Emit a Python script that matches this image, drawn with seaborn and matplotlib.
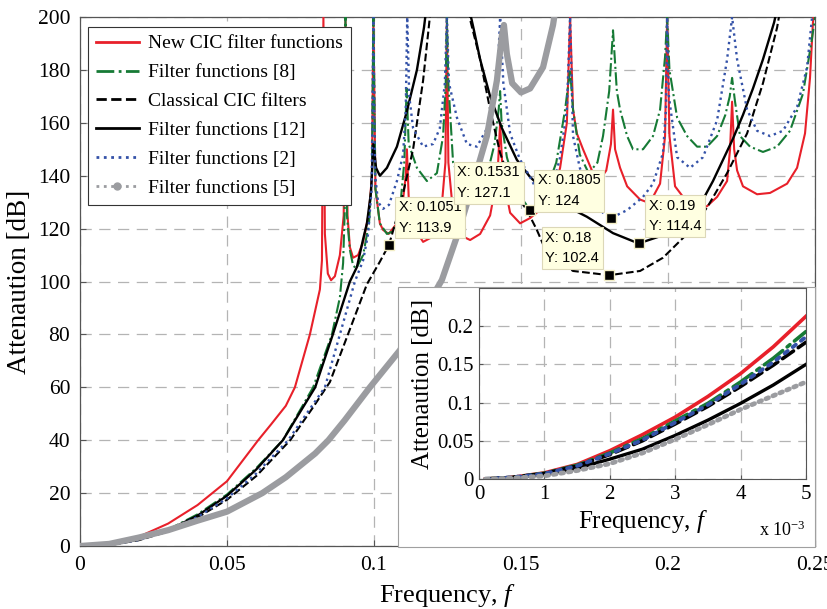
import matplotlib
matplotlib.use('Agg')
import matplotlib.pyplot as plt
from matplotlib.lines import Line2D
from matplotlib.patches import Rectangle
import pandas as pd
import seaborn as sns

# ---- data: (frequency, attenuation dB) ----
new_cic = [(0, 0), (0.01, 0.6), (0.02, 3.5), (0.03, 8.5), (0.04, 15.5), (0.05, 24.5),
           (0.0606, 40), (0.065, 46), (0.07, 53), (0.0731, 60), (0.0782, 80), (0.0816, 97),
           (0.0823, 108), (0.0828, 200), (0.0833, 118), (0.0843, 103), (0.0854, 100.5),
           (0.0867, 102), (0.0884, 110), (0.0897, 125), (0.0903, 200), (0.0910, 125),
           (0.0918, 113), (0.0929, 109), (0.0946, 110), (0.0963, 115), (0.0983, 126),
           (0.0993, 140), (0.0998, 200), (0.1005, 135), (0.1020, 122), (0.1031, 119.5),
           (0.1050, 118), (0.1078, 122), (0.1099, 131), (0.1108, 140), (0.1112, 150),
           (0.1118, 132), (0.1133, 121), (0.1167, 115), (0.1201, 117), (0.1230, 128),
           (0.1243, 145), (0.1248, 200), (0.1253, 145), (0.1269, 126), (0.1303, 117),
           (0.1327, 115.7), (0.1361, 118), (0.1395, 125), (0.1420, 140), (0.1429, 160),
           (0.1438, 140), (0.1463, 126), (0.1497, 122), (0.1531, 124), (0.1575, 128),
           (0.1609, 133), (0.1633, 143), (0.1656, 160), (0.1667, 200), (0.1677, 165),
           (0.1690, 156), (0.1711, 150), (0.1745, 141), (0.1765, 138), (0.1790, 142),
           (0.1806, 152), (0.1813, 165), (0.1820, 150), (0.1837, 143), (0.1861, 136),
           (0.1905, 131), (0.1929, 130), (0.1949, 132), (0.1973, 137), (0.1990, 155),
           (0.1997, 200), (0.2005, 155), (0.2024, 136), (0.2065, 130), (0.2099, 127.5),
           (0.2133, 128.5), (0.2167, 132), (0.2201, 138), (0.2211, 150), (0.2218, 168),
           (0.2225, 150), (0.2235, 142), (0.2255, 136), (0.2303, 133), (0.2347, 133.5),
           (0.2405, 137), (0.2439, 143), (0.2466, 156), (0.2483, 177), (0.2493, 198),
           (0.2500, 210)]

ff8 = [(0, 0), (0.01, 0.4), (0.02, 2.6), (0.03, 6.2), (0.04, 12), (0.05, 19.5), (0.06, 29.5),
       (0.069, 40), (0.0793, 60), (0.0857, 80), (0.0884, 94), (0.0895, 107), (0.0900, 125),
       (0.0903, 200), (0.0908, 125), (0.0918, 112), (0.0929, 106), (0.0940, 105),
       (0.0963, 110), (0.0983, 122), (0.0993, 140), (0.0998, 200), (0.1005, 135),
       (0.1020, 122), (0.1044, 118), (0.1065, 119), (0.1088, 127), (0.1103, 145),
       (0.1111, 173), (0.1118, 152), (0.1146, 143), (0.1180, 138), (0.1214, 141),
       (0.1235, 155), (0.1244, 175), (0.1248, 200), (0.1253, 175), (0.1269, 145),
       (0.1303, 136), (0.1350, 135.5), (0.1384, 140), (0.1410, 152), (0.1424, 165),
       (0.1429, 172), (0.1434, 160), (0.1452, 147), (0.1486, 134), (0.1531, 127.1),
       (0.1575, 131), (0.1620, 145), (0.1650, 165), (0.1667, 180), (0.1677, 165),
       (0.1700, 148), (0.1730, 141), (0.1760, 145), (0.1779, 155), (0.1800, 172),
       (0.1813, 195), (0.1826, 172), (0.1837, 165), (0.1861, 155), (0.1881, 150),
       (0.1915, 150), (0.1949, 155), (0.1973, 165), (0.1990, 185), (0.1997, 200),
       (0.2005, 180), (0.2031, 162), (0.2065, 155), (0.2099, 151), (0.2133, 151),
       (0.2167, 155), (0.2195, 163), (0.2210, 170), (0.2218, 177), (0.2228, 168),
       (0.2245, 155), (0.2279, 151), (0.2323, 149), (0.2371, 151), (0.2415, 157),
       (0.2459, 171), (0.2490, 192), (0.2500, 200)]

classical = [(0, 0), (0.01, 0.3), (0.02, 2.2), (0.03, 5.5), (0.04, 10.8), (0.05, 17.5),
             (0.06, 26.5), (0.0715, 40), (0.0790, 52), (0.0850, 62), (0.0908, 79),
             (0.0976, 99), (0.1020, 107.5), (0.1051, 113.9), (0.1088, 128), (0.1133, 150),
             (0.1167, 176), (0.1190, 200), (0.1200, 212), (0.1320, 212), (0.1327, 199),
             (0.1361, 184), (0.1395, 165), (0.1429, 148.6), (0.1473, 134.6), (0.1520, 127),
             (0.1554, 119.5), (0.1588, 110.8), (0.1677, 104), (0.1800, 102.4), (0.1905, 104),
             (0.1983, 109), (0.2065, 118), (0.2133, 128), (0.2201, 141), (0.2269, 156),
             (0.2323, 175), (0.2371, 196), (0.2385, 205)]

ff12 = [(0, 0), (0.01, 0.4), (0.02, 2.5), (0.03, 6), (0.04, 11.5), (0.05, 19), (0.06, 29),
        (0.069, 40), (0.0800, 60), (0.0860, 80), (0.0918, 100), (0.0942, 105.5),
        (0.0963, 116), (0.0976, 122), (0.0990, 134), (0.0998, 152), (0.1007, 143),
        (0.1020, 140), (0.1044, 143), (0.1078, 151), (0.1111, 164), (0.1146, 180),
        (0.1170, 196), (0.1180, 205), (0.1320, 205), (0.1340, 195), (0.1361, 184),
        (0.1395, 170), (0.1435, 158), (0.1486, 146), (0.1531, 139.5), (0.1565, 136),
        (0.1610, 131), (0.1724, 124.5), (0.1813, 118.3), (0.1900, 114.4), (0.1983, 117.5),
        (0.2065, 125), (0.2119, 131), (0.2153, 138), (0.2187, 146), (0.2221, 154),
        (0.2255, 163), (0.2289, 173), (0.2323, 184), (0.2361, 198), (0.2375, 205)]

ff2 = [(0, 0), (0.01, 0.4), (0.02, 2.3), (0.03, 5.8), (0.04, 11), (0.05, 18), (0.06, 27.5),
       (0.0708, 40), (0.0833, 60), (0.0884, 80), (0.0935, 100), (0.0963, 108), (0.0980, 118),
       (0.0992, 135), (0.0998, 200), (0.1004, 140), (0.1014, 130), (0.1031, 127.5),
       (0.1051, 129), (0.1078, 138), (0.1099, 148), (0.1108, 165), (0.1113, 200),
       (0.1120, 170), (0.1133, 158), (0.1167, 151), (0.1201, 152), (0.1224, 158),
       (0.1241, 175), (0.1248, 200), (0.1255, 175), (0.1282, 162), (0.1316, 152),
       (0.1350, 151), (0.1395, 160), (0.1418, 172), (0.1429, 200), (0.1440, 175),
       (0.1463, 156), (0.1497, 146), (0.1531, 139.5), (0.1554, 134.6), (0.1580, 133),
       (0.1610, 137), (0.1633, 147), (0.1656, 165), (0.1667, 200), (0.1677, 155),
       (0.1700, 143), (0.1740, 131), (0.1779, 126), (0.1806, 124), (0.1861, 127),
       (0.1915, 132), (0.1949, 137), (0.1983, 148.6), (0.1993, 165), (0.1997, 200),
       (0.2003, 170), (0.2031, 147), (0.2075, 143), (0.2119, 147), (0.2167, 161),
       (0.2201, 184), (0.2218, 200), (0.2235, 184), (0.2269, 165), (0.2303, 157),
       (0.2347, 155), (0.2391, 157), (0.2439, 166), (0.2473, 181), (0.2490, 200),
       (0.2500, 210)]

ff5 = [(0, 0), (0.01, 0.8), (0.02, 3.2), (0.03, 6), (0.04, 9.6), (0.05, 13), (0.062, 20),
       (0.07, 26), (0.08, 35), (0.0845, 40), (0.09, 47.5), (0.0986, 60), (0.1088, 74),
       (0.1150, 85), (0.1231, 100.6), (0.1282, 117), (0.1337, 137), (0.1384, 155),
       (0.1418, 176), (0.1435, 193), (0.1442, 197), (0.1452, 186), (0.1470, 175),
       (0.1500, 171.5), (0.1531, 173), (0.1575, 181), (0.1609, 197), (0.1620, 205)]

# inset (frequency in units of 1e-3, attenuation dB)
inset_f = [0.1, 0.5, 1, 1.5, 2, 2.5, 3, 3.5, 4, 4.5, 5]
inset_new_cic = [0, 0.002, 0.008, 0.019, 0.037, 0.058, 0.081, 0.108, 0.138, 0.173, 0.213]
inset_ff8 = [0, 0.002, 0.0075, 0.018, 0.034, 0.053, 0.076, 0.099, 0.127, 0.158, 0.193]
inset_classical = [0, 0.002, 0.007, 0.017, 0.032, 0.050, 0.072, 0.095, 0.121, 0.149, 0.179]
inset_ff2 = [0, 0.002, 0.007, 0.017, 0.033, 0.051, 0.074, 0.097, 0.124, 0.153, 0.186]
inset_ff12 = [0, 0.0015, 0.006, 0.014, 0.026, 0.039, 0.057, 0.077, 0.099, 0.123, 0.150]
inset_ff5 = [0, 0.001, 0.004, 0.011, 0.020, 0.034, 0.052, 0.071, 0.091, 0.109, 0.127]

labels = ['New CIC filter functions', 'Filter functions [8]', 'Classical CIC filters',
          'Filter functions [12]', 'Filter functions [2]', 'Filter functions [5]']

# data tips
tip_x = [0.1051, 0.1531, 0.1805, 0.18, 0.19]
tip_y = [113.9, 127.1, 124, 102.4, 114.4]
tip_side = ['right', 'left', 'left', 'left', 'right']

main_xticks = [0, 0.05, 0.1, 0.15, 0.2, 0.25]
main_xticklabels = ['0', '0.05', '0.1', '0.15', '0.2', '0.25']
main_yticks = [0, 20, 40, 60, 80, 100, 120, 140, 160, 180, 200]
inset_xticks = [0, 1, 2, 3, 4, 5]
inset_yticks = [0, 0.05, 0.1, 0.15, 0.2]
inset_yticklabels = ['0', '0.05', '0.1', '0.15', '0.2']

# ---- styling ----
plt.rcParams['font.family'] = ['Liberation Serif', 'DejaVu Serif']
plt.rcParams['mathtext.fontset'] = 'custom'
plt.rcParams['mathtext.rm'] = 'Liberation Serif'
plt.rcParams['mathtext.it'] = 'Liberation Serif:italic'

RED = '#e8202a'
GREEN = '#167a35'
BLUE = '#3452a8'
GREY = '#9b9ca0'
GRID = '#b4b4b4'

main_series = [
    (new_cic, RED, '-', 1.5, 3),
    (ff8, GREEN, '-.', 1.5, 3),
    (classical, 'black', '--', 1.5, 3),
    (ff12, 'black', '-', 1.7, 3),
    (ff2, BLUE, ':', 1.7, 3),
    (ff5, GREY, '-', 4.5, 4),
]
inset_series = [
    (inset_new_cic, RED, '-', 2.6),
    (inset_ff8, GREEN, '-.', 2.6),
    (inset_classical, 'black', '--', 2.6),
    (inset_ff12, 'black', '-', 2.4),
    (inset_ff2, BLUE, ':', 2.8),
    (inset_ff5, GREY, (0, (0.6, 1.0)), 3.4),
]

fig = plt.figure(figsize=(8.27, 6.09), dpi=100)
ax = fig.add_axes([0.0967, 0.1034, 0.8888, 0.8686])

for data, color, ls, lw, z in main_series:
    df = pd.DataFrame(data, columns=['f', 'db'])
    sns.lineplot(data=df, x='f', y='db', ax=ax, color=color, linestyle=ls,
                 linewidth=lw, sort=False, estimator=None, legend=False, zorder=z,
                 solid_capstyle='round')

ax.set_xlim(0, 0.25)
ax.set_ylim(0, 200)
ax.set_xticks(main_xticks)
ax.set_xticklabels(main_xticklabels)
ax.set_yticks(main_yticks)
ax.set_yticklabels([str(v) for v in main_yticks])
ax.grid(True, color=GRID, linestyle=(0, (9, 6)), linewidth=0.9)
ax.set_axisbelow(True)
ax.tick_params(direction='in', length=4, labelsize=15.5, pad=7, color='#555555')
for sp in ax.spines.values():
    sp.set_color('#555555')
    sp.set_linewidth(0.9)
ax.set_xlabel('Frequency, $f$', fontsize=19, labelpad=5)
ax.set_ylabel('Attenaution [dB]', fontsize=19.5, labelpad=4)

# data tips
sns.scatterplot(x=tip_x, y=tip_y, ax=ax, marker='s', s=55, color='black',
                edgecolor='#f3eec6', linewidth=1, zorder=15, legend=False)
for x, y, side in zip(tip_x, tip_y, tip_side):
    dx = 10 if side == 'right' else -10
    ax.annotate(f'X: {x:g}\nY: {y:g}', xy=(x, y), xytext=(dx, 10),
                textcoords='offset pixels', ha='left' if side == 'right' else 'right',
                va='bottom', multialignment='left', fontsize=10.5,
                family='Liberation Sans', linespacing=1.6, zorder=16,
                bbox=dict(boxstyle='square,pad=0.25', fc='#ffffe1', ec='#dcd8b8', lw=0.8))

# legend
handles = []
for (data, color, ls, lw, z) in main_series[:-1]:
    handles.append(Line2D([], [], color=color, linestyle=ls, linewidth=2))
handles.append(Line2D([], [], color=GREY, linestyle=':', linewidth=2, marker='o',
                      markersize=5))
leg = ax.legend(handles, labels, loc='upper left', bbox_to_anchor=(0.011, 0.981),
                borderaxespad=0, fontsize=14, frameon=True, fancybox=False,
                edgecolor='#333333', framealpha=1, handlelength=2.2,
                handletextpad=0.5, labelspacing=0.58, borderpad=0.4, numpoints=1)
leg.get_frame().set_linewidth(0.8)
leg.set_zorder(20)

# white panel behind the zoomed inset
fig.add_artist(Rectangle((0.4813, 0.1018), 0.5042, 0.4269, transform=fig.transFigure,
                         facecolor='white', edgecolor='#a0a0a0', linewidth=0.8, zorder=5))

ins = fig.add_axes([0.5792, 0.2135, 0.3954, 0.3136])
ins.set_zorder(6)
for vals, color, ls, lw in inset_series:
    sns.lineplot(x=inset_f, y=vals, ax=ins, color=color, linestyle=ls, linewidth=lw,
                 sort=False, estimator=None, legend=False, dash_capstyle='round')
ins.set_xlim(0, 5)
ins.set_ylim(0, 0.25)
ins.set_xticks(inset_xticks)
ins.set_xticklabels([str(v) for v in inset_xticks])
ins.set_yticks(inset_yticks)
ins.set_yticklabels(inset_yticklabels)
ins.grid(True, color=GRID, linestyle=(0, (9, 6)), linewidth=0.9)
ins.set_axisbelow(True)
ins.tick_params(direction='in', length=3, labelsize=15, pad=4, color='#555555')
for sp in ins.spines.values():
    sp.set_color('#555555')
    sp.set_linewidth(0.8)
ins.set_xlabel('Frequency, $f$', fontsize=18, labelpad=3)
ins.set_ylabel('Attenaution [dB]', fontsize=18, labelpad=2)
ins.text(1.0, -0.27, 'x 10$^{-3}$', transform=ins.transAxes, ha='right', va='center',
         fontsize=13)

fig.savefig('out.png', dpi=100)
